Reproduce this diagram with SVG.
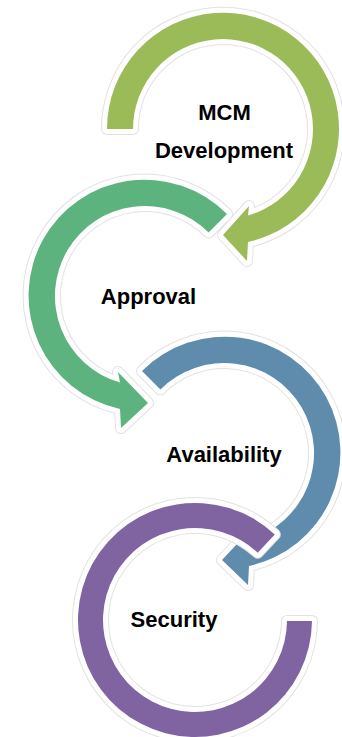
<svg xmlns="http://www.w3.org/2000/svg" xmlns:xlink="http://www.w3.org/1999/xlink" width="342" height="737" viewBox="0 0 342 737">
  <style>
    .halo { fill: none; stroke: #e2e2e2; stroke-width: 12; stroke-linejoin: round; }
    .edge { fill: none; stroke: #ffffff; stroke-width: 10; stroke-linejoin: round; }
    .lbl { font-family: "Liberation Sans", Arial, sans-serif; font-weight: bold; font-size: 22px; fill: #000000; text-anchor: middle; }
  </style>
  <defs>
    <path id="s1" d="M107,129 A116,116 0 1 1 248,242 L247,261 L223,235 L249,206 L248,215.5 A90,90 0 1 0 133,129 Z"/>
    <path id="s2" d="M227,214 A116,116 0 1 0 120,409 L121,428 L148,403 L118,372 L120,382.5 A90,90 0 1 1 208.6,232.4 Z"/>
    <path id="s3" d="M142,371 A116,116 0 1 1 249,566 L248,585 L222,560 L250,530 L249,539.5 A90,90 0 1 0 160.4,389.4 Z"/>
    <path id="s4" d="M274.8,534.4 A117,117 0 1 0 312,621 L287,621 A92,92 0 1 1 257.7,552.7 Z"/>
  </defs>
  <rect x="0" y="0" width="342" height="737" fill="#ffffff"/>
  <g id="node-mcm-development">
    <use xlink:href="#s1" href="#s1" class="halo"/>
    <use xlink:href="#s1" href="#s1" class="edge"/>
    <use xlink:href="#s1" href="#s1" fill="#9BBB59"/>
    <text class="lbl" x="224.5" y="120">MCM</text>
    <text class="lbl" x="224" y="158">Development</text>
  </g>
  <g id="node-approval">
    <use xlink:href="#s2" href="#s2" class="halo"/>
    <use xlink:href="#s2" href="#s2" class="edge"/>
    <use xlink:href="#s2" href="#s2" fill="#5CB37E"/>
    <text class="lbl" x="148.5" y="304">Approval</text>
  </g>
  <g id="node-availability">
    <use xlink:href="#s3" href="#s3" class="halo"/>
    <use xlink:href="#s3" href="#s3" class="edge"/>
    <use xlink:href="#s3" href="#s3" fill="#5F8CAD"/>
    <text class="lbl" x="224" y="462">Availability</text>
  </g>
  <g id="node-security">
    <use xlink:href="#s4" href="#s4" class="halo"/>
    <use xlink:href="#s4" href="#s4" class="edge"/>
    <use xlink:href="#s4" href="#s4" fill="#8064A2"/>
    <text class="lbl" x="174" y="627">Security</text>
  </g>
  <g id="connectors"></g>
</svg>
